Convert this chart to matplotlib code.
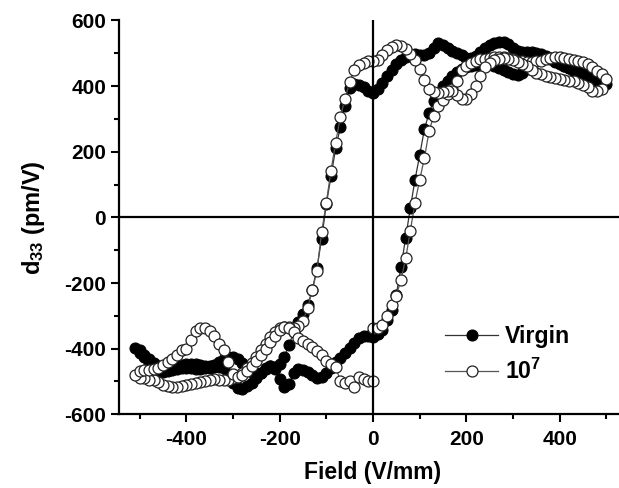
import matplotlib
matplotlib.use("Agg")
import matplotlib.pyplot as plt
from matplotlib.ticker import MultipleLocator

plt.rcParams["font.family"] = ["Liberation Sans", "DejaVu Sans"]
plt.rcParams["font.weight"] = "bold"
plt.rcParams["axes.unicode_minus"] = False
plt.rcParams["mathtext.fontset"] = "custom"
plt.rcParams["mathtext.rm"] = "Liberation Sans:bold"
plt.rcParams["mathtext.bf"] = "Liberation Sans:bold"
plt.rcParams["mathtext.it"] = "Liberation Sans:bold"

# Field sweep (V/mm): 0 -> +500, +500 -> -510, -500 -> 0
field_rise = [0, 10, 20, 30, 40, 50, 60, 70, 80, 90,
              100, 110, 120, 130, 140, 150, 160, 170, 180, 190,
              200, 210, 220, 230, 240, 250, 260, 270, 280, 290,
              300, 310, 320, 330, 340, 350, 360, 370, 380, 390,
              400, 410, 420, 430, 440, 450, 460, 470, 480, 490,
              500]
field_fall = [490, 480, 470, 460, 450, 440, 430, 420, 410, 400,
              390, 380, 370, 360, 350, 340, 330, 320, 310, 300,
              290, 280, 270, 260, 250, 240, 230, 220, 210, 200,
              190, 180, 170, 160, 150, 140, 130, 120, 110, 100,
              90, 80, 70, 60, 50, 40, 30, 20, 10, 0,
              -10, -20, -30, -40, -50, -60, -70, -80, -90, -100,
              -110, -120, -130, -140, -150, -160, -170, -180, -190, -200,
              -210, -220, -230, -240, -250, -260, -270, -280, -290, -300,
              -310, -320, -330, -340, -350, -360, -370, -380, -390, -400,
              -410, -420, -430, -440, -450, -460, -470, -480, -490, -500,
              -510]
field_return = [-500, -490, -480, -470, -460, -450, -440, -430, -420, -410,
                -400, -390, -380, -370, -360, -350, -340, -330, -320, -310,
                -300, -290, -280, -270, -260, -250, -240, -230, -220, -210,
                -200, -190, -180, -170, -160, -150, -140, -130, -120, -110,
                -100, -90, -80, -70, -60, -50, -40, -30, -20, -10,
                0]

# d33 (pm/V), virgin sample
virgin_rise = [-365, -356, -342, -312, -282, -235, -150, -62, 30, 115,
               190, 268, 318, 355, 380, 400, 415, 430, 443, 452,
               458, 462, 465, 468, 470, 468, 462, 455, 450, 442,
               436, 434, 440, 452, 465, 478, 488, 490, 485, 478,
               470, 462, 455, 448, 442, 436, 428, 420, 413, 408,
               405]
virgin_fall = [412, 416, 422, 428, 435, 440, 447, 455, 462, 468,
               475, 482, 492, 498, 502, 505, 505, 505, 508, 515,
               527, 533, 535, 532, 525, 515, 505, 493, 486, 487,
               495, 502, 508, 515, 525, 530, 515, 500, 495, 496,
               498, 495, 490, 480, 468, 450, 432, 410, 392, 380,
               386, 398, 402, 406, 395, 340, 275, 210, 125, 40,
               -65, -155, -220, -268, -293, -320, -350, -390, -425, -448,
               -455, -452, -460, -475, -490, -505, -515, -522, -520, -505,
               -480, -460, -455, -455, -452, -452, -450, -448, -446, -448,
               -450, -452, -455, -458, -456, -452, -444, -432, -418, -405,
               -398]
virgin_return = [-412, -425, -445, -460, -468, -470, -468, -465, -462, -460,
                 -458, -460, -462, -462, -460, -458, -450, -440, -430, -425,
                 -425, -432, -445, -458, -470, -480, -475, -462, -452, -462,
                 -492, -518, -508, -475, -462, -465, -472, -480, -488, -485,
                 -475, -458, -442, -428, -412, -398, -382, -368, -362, -360,
                 -362]

# d33 (pm/V), after 10^7 cycles
cycled_rise = [-338, -336, -328, -300, -268, -238, -190, -125, -40, 45,
               115, 180, 262, 310, 338, 358, 376, 390, 415, 448,
               462, 470, 478, 482, 484, 486, 488, 490, 490, 486,
               482, 478, 476, 475, 475, 476, 478, 482, 487, 490,
               488, 486, 484, 480, 477, 474, 468, 458, 447, 436,
               422]
cycled_fall = [392, 386, 385, 396, 402, 410, 415, 417, 418, 422,
               425, 429, 432, 436, 440, 450, 460, 468, 475, 480,
               484, 485, 484, 480, 472, 458, 430, 400, 375, 360,
               362, 372, 384, 386, 382, 378, 382, 392, 418, 452,
               480, 498, 514, 523, 525, 520, 510, 496, 480, 476,
               476, 470, 463, 450, 412, 362, 305, 228, 142, 45,
               -45, -162, -222, -275, -315, -330, -336, -335, -333, -338,
               -350, -365, -385, -405, -425, -445, -460, -475, -485, -490,
               -494, -495, -494, -493, -495, -498, -502, -505, -508, -512,
               -515, -518, -518, -515, -510, -502, -497, -494, -490, -488,
               -480]
cycled_return = [-468, -466, -464, -463, -459, -450, -440, -430, -420, -405,
                 -400, -375, -345, -338, -338, -345, -360, -385, -405, -440,
                 -476, -486, -480, -468, -452, -438, -420, -400, -380, -360,
                 -344, -334, -338, -350, -368, -378, -385, -396, -408, -420,
                 -438, -446, -455, -498, -505, -500, -518, -486, -492, -498,
                 -500]

series_labels = ["Virgin", r"10$^{7}$"]

fig = plt.figure(figsize=(6.19, 4.88), dpi=100)
ax = fig.add_axes([118.5 / 619, (488 - 414.3) / 488, 509 / 619, 393.8 / 488])

field = field_rise + field_fall + field_return
virgin = virgin_rise + virgin_fall + virgin_return
cycled = cycled_rise + cycled_fall + cycled_return

ax.plot(field, virgin, color="#333333", lw=0.9, marker="o", ms=7.9,
        mfc="black", mec="black", mew=0.8, label=series_labels[0], zorder=2)
ax.plot(field, cycled, color="#555555", lw=0.9, marker="o", ms=7.9,
        mfc="white", mec="#222222", mew=0.9, label=series_labels[1], zorder=3)

ax.axhline(0, color="black", lw=1.6, zorder=4)
ax.axvline(0, color="black", lw=1.6, zorder=4)

ax.set_xlim(-545, 545)
ax.set_ylim(-600, 600)
ax.xaxis.set_major_locator(MultipleLocator(200))
ax.xaxis.set_minor_locator(MultipleLocator(100))
ax.yaxis.set_major_locator(MultipleLocator(200))
ax.yaxis.set_minor_locator(MultipleLocator(100))

for side in ("top", "right"):
    ax.spines[side].set_visible(False)
for side in ("left", "bottom"):
    ax.spines[side].set_linewidth(1.6)

ax.tick_params(which="major", direction="out", length=6, width=1.5,
               labelsize=15)
ax.tick_params(which="minor", direction="out", length=3.5, width=1.5)
ax.tick_params(axis="y", which="major", pad=3)
ax.tick_params(axis="x", which="major", pad=5)
for lab in ax.get_xticklabels() + ax.get_yticklabels():
    lab.set_fontweight("bold")

ax.set_xlabel("Field (V/mm)", fontsize=16.5, fontweight="bold", labelpad=9)
ax.set_ylabel(r"d$_{33}$ (pm/V)", fontsize=17, fontweight="bold", labelpad=12)

ax.legend(loc="upper left", bbox_to_anchor=(445 / 619, 1 - 325 / 488),
          bbox_transform=fig.transFigure, frameon=False,
          handlelength=2.3, handletextpad=0.3, labelspacing=0.45,
          borderpad=0, borderaxespad=0, prop={"weight": "bold", "size": 16.7})

fig.savefig("out.png", dpi=100)
